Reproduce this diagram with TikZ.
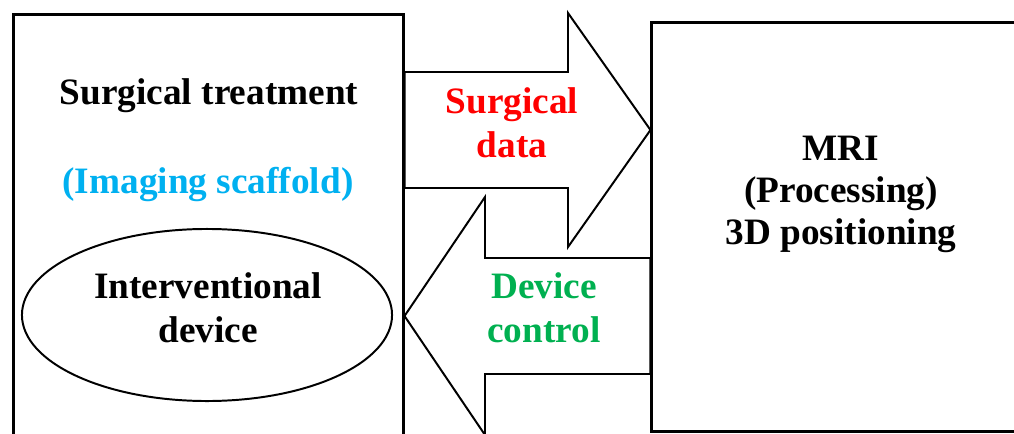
\documentclass[tikz,border=0pt]{standalone}
\usepackage{fontspec}
\setmainfont{Liberation Serif}
\usetikzlibrary{shapes.geometric}

\definecolor{datared}{RGB}{255,0,0}
\definecolor{scaffoldblue}{RGB}{0,176,240}
\definecolor{controlgreen}{RGB}{0,176,80}

\tikzset{
  panel/.style={draw,rectangle,line width=2.1pt,inner sep=0pt},
  blockarrow/.style={draw,line width=1.4pt,line join=miter},
  tag/.style={font=\fontsize{26.5}{31.5}\selectfont\bfseries,align=center,inner sep=0pt}
}

\begin{document}
\begin{tikzpicture}[x=0.025cm,y=-0.025cm]
\clip (0,0) rectangle (1014,434);
% the two blocks
\node[panel,minimum width=9.725cm,minimum height=11.125cm] (surgery) at (208.5,237.5) {};
\node[panel,minimum width=9.45cm,minimum height=10.2cm] (mri) at (841,227) {};
\node[draw,ellipse,line width=1.4pt,minimum width=9.25cm,minimum height=4.3cm,inner sep=0pt] (device) at (207,315) {};
% block arrows between them
\draw[blockarrow] (surgery.east |- 0,72) -- (568,72) -- (568,13) -- (mri.west |- 0,130)
  -- (568,247) -- (568,188) -- (surgery.east |- 0,188) -- cycle;
\draw[blockarrow] (mri.west |- 0,258) -- (485,258) -- (485,197) -- (surgery.east |- 0,316)
  -- (485,435) -- (485,374) -- (mri.west |- 0,374) -- cycle;
% labels
\node[tag,anchor=base] (treatment) at (209,104) {Surgical treatment};
\node[tag,anchor=base,text=scaffoldblue] (scaffold) at (208,193) {(Imaging scaffold)};
\node[tag,anchor=north] (devicetext) at (208,272) {Interventional\\device};
\node[tag,anchor=north,text=datared] (data) at (512,87) {Surgical\\data};
\node[tag,anchor=north,text=controlgreen] (control) at (544,272) {Device\\control};
\node[tag,anchor=north,font=\fontsize{26.5}{29.8}\selectfont\bfseries] (processing) at (841,136) {MRI\\(Processing)\\3D positioning};
\end{tikzpicture}
\end{document}
